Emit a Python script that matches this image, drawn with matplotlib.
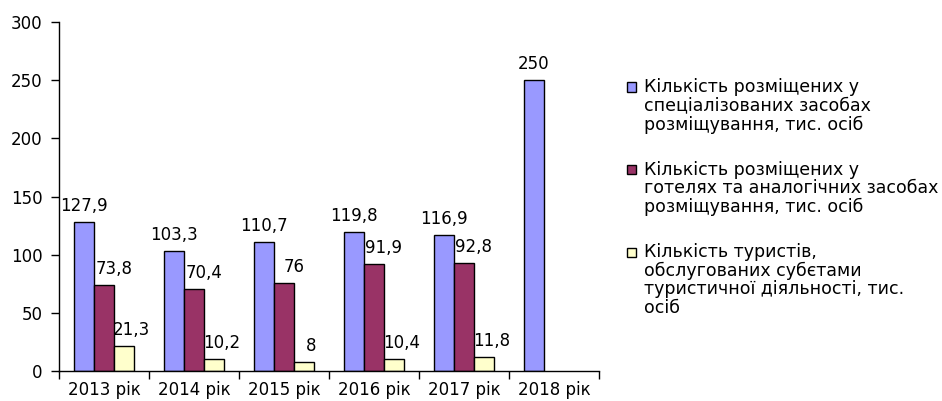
import matplotlib
matplotlib.use("Agg")
import matplotlib.pyplot as plt
from matplotlib.patches import Rectangle
import numpy as np

categories = ["2013 рік", "2014 рік", "2015 рік", "2016 рік", "2017 рік", "2018 рік"]
series_names = [
    "Кількість розміщених у\nспеціалізованих засобах\nрозміщування, тис. осіб",
    "Кількість розміщених у\nготелях та аналогічних засобах\nрозміщування, тис. осіб",
    "Кількість туристів,\nобслугованих субєтами\nтуристичної діяльності, тис.\nосіб",
]
specialized = [127.9, 103.3, 110.7, 119.8, 116.9, 250]
hotels = [73.8, 70.4, 76, 91.9, 92.8, None]
tourists = [21.3, 10.2, 8, 10.4, 11.8, None]
yticks = [0, 50, 100, 150, 200, 250, 300]

colors = ["#9999FF", "#993366", "#FFFFCC"]
series = [specialized, hotels, tourists]
label_dx = [0, 7, 5.5]  # points

plt.rcParams['font.family'] = ['DejaVu Sans']
fs = 12

fig = plt.figure(figsize=(9.42, 4.01), dpi=100)
ax = fig.add_axes([59/942, 1-371/401, 540/942, 349/401])

x = np.arange(len(categories))
w = 0.222
for i, (vals, c) in enumerate(zip(series, colors)):
    off = (i - 1) * w
    for xi, v in zip(x, vals):
        if v is None:
            continue
        ax.bar(xi + off, v, width=w, color=c, edgecolor="black", linewidth=1.0)
        lab = f"{v:g}".replace(".", ",")
        ax.annotate(lab, (xi + off, v), xytext=(label_dx[i], 5), textcoords="offset points",
                    ha="center", va="bottom", fontsize=fs)

ax.set_xlim(-0.5, len(categories) - 0.5)
ax.set_ylim(0, 300)
ax.set_yticks(yticks)
ax.set_yticklabels([str(t) for t in yticks], fontsize=fs)
ax.set_xticks(x)
ax.set_xticklabels(categories, fontsize=fs)
ax.set_xticks(np.arange(len(categories) + 1) - 0.5, minor=True)
ax.tick_params(axis="x", which="major", length=0, pad=7)
ax.tick_params(axis="x", which="minor", length=6, width=1, direction="out")
ax.tick_params(axis="y", length=6, width=1, direction="out", pad=6)
for s in ["top", "right"]:
    ax.spines[s].set_visible(False)
for s in ["left", "bottom"]:
    ax.spines[s].set_linewidth(1.0)

# legend
line_h = 18.7
starts = [87, 169.5, 252]
for name, c, y0 in zip(series_names, colors, starts):
    fig.patches.append(Rectangle((627/942, 1-(y0+4.5)/401), 9/942, 9/401,
                                 transform=fig.transFigure, facecolor=c,
                                 edgecolor="black", linewidth=1.0))
    for k, line in enumerate(name.split("\n")):
        fig.text(644/942, 1-(y0 + k*line_h)/401, line, fontsize=12.5,
                 ha="left", va="center")

fig.savefig("out.png", dpi=100)
